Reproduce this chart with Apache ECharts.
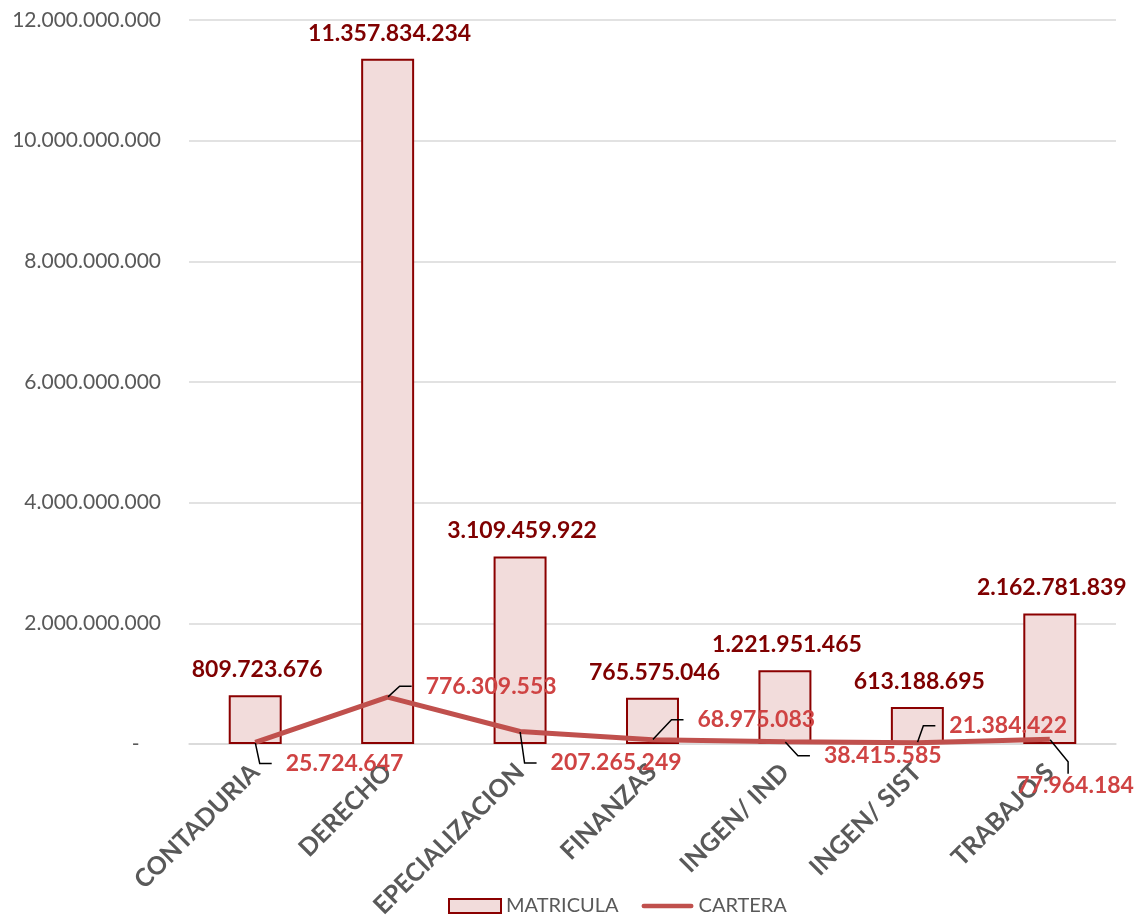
<!DOCTYPE html>
<html>
<head>
<meta charset="utf-8">
<script src="https://cdn.jsdelivr.net/npm/echarts@6/dist/echarts.min.js"></script>
<style>
  html, body { margin: 0; padding: 0; background: #fff; }
  #chart { width: 1144px; height: 915px; }
</style>
</head>
<body>
<div id="chart"></div>
<script>
// ---- data ----
var categories = ['CONTADURIA', 'DERECHO', 'EPECIALIZACION', 'FINANZAS', 'INGEN/ IND', 'INGEN/ SIST', 'TRABAJO S'];
var matricula = [809723676, 11357834234, 3109459922, 765575046, 1221951465, 613188695, 2162781839];
var cartera = [25724647, 776309553, 207265249, 68975083, 38415585, 21384422, 77964184];
var yTicks = { min: 0, max: 12000000000, interval: 2000000000 };

// ---- styling (label offsets for the CARTERA labels, in px) ----
var carteraLabelShift = [
  [16, 21], [23.5, -11], [16, 31.5], [30.5, -20], [24.5, 14], [17.5, -17], [-48, 46]
];

function fmt(v) {
  return String(Math.round(v)).replace(/\B(?=(\d{3})+(?!\d))/g, '.');
}

var FONT = 'Lato';
var chart = echarts.init(document.getElementById('chart'), null, { renderer: 'canvas' });

chart.setOption({
  animation: false,
  backgroundColor: '#ffffff',
  textStyle: { fontFamily: FONT },
  grid: { left: 189, right: 28, top: 20, bottom: 171, containLabel: false, outerBoundsMode: 'none' },
  legend: {
    left: 443,
    top: 891,
    itemWidth: 52,
    itemHeight: 14,
    itemGap: 23,
    textStyle: { fontFamily: FONT, fontSize: 20, color: '#595959' },
    data: [
      { name: 'MATRICULA', icon: 'rect' },
      { name: 'CARTERA', icon: 'path://M2.5,0 L53.5,0 A2.5,2.5 0 0 1 53.5,5 L2.5,5 A2.5,2.5 0 0 1 2.5,0 Z' }
    ]
  },
  xAxis: {
    type: 'category',
    data: categories,
    axisTick: { show: false },
    axisLine: { show: true, lineStyle: { color: '#d9d9d9', width: 1.5 } },
    axisLabel: {
      interval: 0,
      rotate: 45,
      margin: 24,
      fontFamily: FONT,
      fontSize: 25,
      fontWeight: 'bold',
      color: '#595959'
    }
  },
  yAxis: {
    type: 'value',
    min: yTicks.min,
    max: yTicks.max,
    interval: yTicks.interval,
    axisLine: { show: false },
    axisTick: { show: false },
    splitLine: { lineStyle: { color: '#d9d9d9', width: 1.5 } },
    axisLabel: {
      margin: 28,
      fontFamily: FONT,
      fontSize: 21,
      color: '#595959',
      formatter: function (v) { return v === 0 ? '-    ' : fmt(v); }
    }
  },
  series: [
    {
      name: 'MATRICULA',
      type: 'bar',
      data: matricula,
      barWidth: '40%',
      itemStyle: { color: '#f2dcdb', borderColor: '#8b0000', borderWidth: 2 },
      label: {
        show: true,
        position: 'top',
        distance: 14,
        offset: [2, 0],
        fontFamily: FONT,
        fontSize: 23,
        fontWeight: 'bold',
        color: '#7f0000',
        formatter: function (p) { return fmt(p.value); }
      },
      z: 2
    },
    {
      name: 'CARTERA',
      type: 'line',
      data: cartera,
      symbol: 'circle',
      symbolSize: 1,
      showSymbol: true,
      lineStyle: { color: '#c0504d', width: 5 },
      itemStyle: { color: '#c0504d' },
      label: {
        show: true,
        position: 'right',
        distance: 0,
        fontFamily: FONT,
        fontSize: 23,
        fontWeight: 'bold',
        color: '#cf4343',
        formatter: function (p) { return '{gap|}' + fmt(p.value); },
        rich: {
          gap: { width: 14, fontSize: 23 }
        }
      },
      labelLine: {
        show: true,
        length2: 12,
        minTurnAngle: 0,
        lineStyle: { color: '#000000', width: 1.5 }
      },
      labelLayout: function (params) {
        var s = carteraLabelShift[params.dataIndex] || [0, 0];
        return { dx: s[0], dy: s[1] };
      },
      z: 3
    }
  ]
});
</script>
</body>
</html>
